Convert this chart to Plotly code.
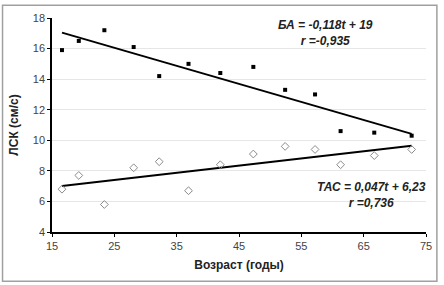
import plotly.graph_objects as go

age = [16.6, 19.3, 23.4, 28.1, 32.2, 36.9, 42.0, 47.3, 52.4, 57.2, 61.3, 66.7, 72.7]
ba = [15.9, 16.5, 17.2, 16.1, 14.2, 15.0, 14.4, 14.8, 13.3, 13.0, 10.6, 10.5, 10.3]
tac = [6.8, 7.7, 5.8, 8.2, 8.6, 6.7, 8.4, 9.1, 9.6, 9.4, 8.4, 9.0, 9.4]
ba_fit = (-0.118, 19.0)
tac_fit = (0.047, 6.23)
x_ticks = [15, 25, 35, 45, 55, 65, 75]
y_ticks = [4, 6, 8, 10, 12, 14, 16, 18]

W, H = 444, 285
L, R, T, B = 52, 14, 15, 53
pw, ph = W - L - R, H - T - B

fig = go.Figure()
xe = [min(age), max(age)]
fig.add_trace(go.Scatter(x=xe, y=[ba_fit[0] * v + ba_fit[1] for v in xe], mode="lines",
                         line=dict(color="black", width=2), showlegend=False))
fig.add_trace(go.Scatter(x=xe, y=[tac_fit[0] * v + tac_fit[1] for v in xe], mode="lines",
                         line=dict(color="black", width=2), showlegend=False))
fig.add_trace(go.Scatter(x=age, y=ba, mode="markers",
                         marker=dict(symbol="square", size=4, color="black"), showlegend=False))
fig.add_trace(go.Scatter(x=age, y=tac, mode="markers",
                         marker=dict(symbol="diamond-open", size=6, color="#8a8a8a",
                                     line=dict(width=1, color="#8a8a8a")), showlegend=False))

font = dict(family="Liberation Sans, Arial", size=12, color="#222")
fig.add_annotation(x=58.8, y=17.04, xref="x", yref="y", showarrow=False, align="center",
                   text="<b><i>БА = -0,118t + 19<br>r =-0,935</i></b>", font=font)
fig.add_annotation(x=66.3, y=6.4, xref="x", yref="y", showarrow=False, align="center",
                   text="<b><i>ТАС = 0,047t + 6,23<br>r =0,736</i></b>", font=font)

fig.add_shape(type="rect", xref="paper", yref="paper", layer="below",
              x0=(2 - L) / pw, x1=(441 - L) / pw,
              y0=(T + ph - 282) / ph, y1=1 + (T - 2) / ph,
              line=dict(color="#a0a0a0", width=1.5))

fig.update_layout(
    width=W, height=H, margin=dict(l=L, r=R, t=T, b=B),
    paper_bgcolor="white", plot_bgcolor="white",
    font=dict(family="Liberation Sans, Arial", size=11, color="#444"),
    xaxis=dict(range=[15, 75], tickvals=x_ticks, showgrid=False, showline=True,
               linecolor="black", linewidth=1.5, ticks="outside", ticklen=3,
               tickcolor="black", zeroline=False,
               title=dict(text="<b>Возраст (годы)</b>", font=dict(size=12, color="#222"), standoff=10)),
    yaxis=dict(range=[4, 18], tickvals=y_ticks, showgrid=True, gridcolor="#e6e6e6",
               showline=True, linecolor="black", linewidth=1.5, ticks="outside",
               ticklen=3, tickcolor="black", zeroline=False,
               title=dict(text="<b>ЛСК (см/с)</b>", font=dict(size=12, color="#222"), standoff=12)),
)
fig.write_html("out.html", config={"displayModeBar": False},
               post_script="document.body.style.margin='0';document.body.style.overflow='hidden';")
